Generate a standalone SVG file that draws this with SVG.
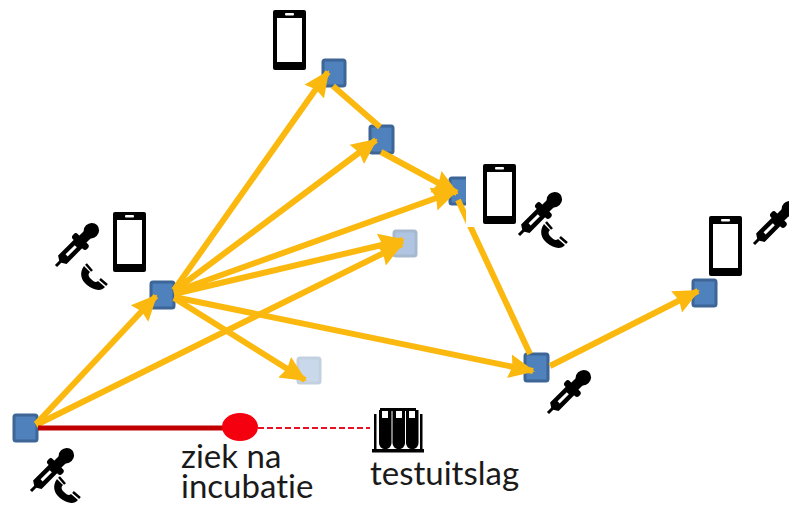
<svg xmlns="http://www.w3.org/2000/svg" width="789" height="508" viewBox="0 0 789 508">
<style>
.n{fill:#4f81bd;stroke:#3d6596;stroke-width:3}
.c line{stroke:#fbb80f;stroke-width:6;fill:none}
.a{marker-end:url(#h)}
text{font-family:"Lato","Open Sans",sans-serif;font-size:33px;fill:#1a1a1a;font-variant-ligatures:none}
</style>
<defs>
<marker id="h" viewBox="0 0 26 26" refX="24" refY="13" markerWidth="26" markerHeight="26" markerUnits="userSpaceOnUse" orient="auto"><path d="M0 1L26 13L0 25L3 13Z" fill="#fbb80f"/></marker>
<g id="phone">
<rect x="0" y="0" width="33" height="60" rx="2" fill="#000"/>
<rect x="4" y="8" width="25" height="44" fill="#fff"/>
<rect x="12" y="3" width="9" height="2.500" rx="1" fill="#fff"/>
</g>
<g id="drop">
<path d="M0 -1.500H6L9 -6H32V6H9L6 1.500H0Z" fill="#000"/>
<rect x="31" y="-10" width="7" height="20" rx="3" fill="#000"/>
<rect x="37" y="-5" width="8" height="10" fill="#000"/>
<ellipse cx="50" cy="0" rx="8" ry="7.500" fill="#000"/>
<rect x="15" y="-1.500" width="13" height="3" fill="#fff"/>
</g>
<g id="hand">
<path d="M3 1C-2 8 0 15 6 20C12 25 20 27 24 22L17 16C15 18 13 17 10 14C7 11 7 9 9 7Z" fill="#000"/>
<path d="M5 -1L11 6M19 14L26 20" stroke="#000" stroke-width="2.500" fill="none"/>
</g>
</defs>
<g id="node-start"><rect class="n" x="14" y="415" width="23" height="26" rx="2"/></g>
<g id="node-a"><rect class="n" x="151" y="282" width="23" height="26" rx="2"/></g>
<g id="node-b"><rect class="n" x="323" y="60" width="22" height="26" rx="2"/></g>
<g id="node-c"><rect class="n" x="370" y="126" width="23" height="27" rx="2"/></g>
<g id="node-d"><rect class="n" x="450" y="178" width="20" height="26" rx="2"/></g>
<g id="node-light1" opacity=".45"><rect class="n" x="394" y="231" width="22" height="25" rx="2"/></g>
<g id="node-light2" opacity=".3"><rect class="n" x="298" y="358" width="22" height="25" rx="2"/></g>
<g id="node-e"><rect class="n" x="525" y="354" width="23" height="27" rx="2"/></g>
<g id="node-f"><rect class="n" x="693" y="280" width="23" height="26" rx="2"/></g>
<g id="connectors" class="c">
<line class="a" x1="36" y1="424" x2="156" y2="296"/>
<line class="a" x1="36" y1="425" x2="402" y2="244"/>
<line class="a" x1="174" y1="290" x2="328" y2="72"/>
<line class="a" x1="174" y1="291" x2="376" y2="140"/>
<line class="a" x1="174" y1="292" x2="456" y2="191"/>
<line class="a" x1="174" y1="294" x2="403" y2="240"/>
<line class="a" x1="174" y1="298" x2="305" y2="380"/>
<line class="a" x1="174" y1="297" x2="533" y2="371"/>
<line x1="333" y1="86" x2="380" y2="127"/>
<line class="a" x1="381" y1="152" x2="457" y2="193"/>
<line x1="458" y1="200" x2="530" y2="354"/>
<line class="a" x1="550" y1="366" x2="698" y2="291"/>
<line x1="38" y1="428" x2="225" y2="428" style="stroke:#c00000;stroke-width:5"/>
<line x1="258" y1="428" x2="370" y2="428" style="stroke:#e81123;stroke-width:2;stroke-dasharray:6 3"/>
</g>
<g id="event"><ellipse cx="240" cy="427" rx="18" ry="14" fill="#f5000f"/><text><tspan x="181" y="468">ziek na</tspan><tspan x="181" y="498">incubatie</tspan></text></g>
<g id="result">
<rect x="380" y="408" width="36" height="3" fill="#000"/>
<rect x="374" y="414" width="2.500" height="36" fill="#000"/>
<rect x="420" y="414" width="2.500" height="36" fill="#000"/>
<rect x="372" y="449" width="52" height="3.500" fill="#000"/>
<g fill="#000"><path d="M379 410h12.500v33a6.250 6.250 0 0 1-12.500 0Z"/><path d="M392.500 410h12.500v33a6.250 6.250 0 0 1-12.500 0Z"/><path d="M406 410h12.500v33a6.250 6.250 0 0 1-12.500 0Z"/></g>
<g fill="#fff"><rect x="382" y="411" width="6" height="7"/><rect x="396" y="411" width="6" height="7"/><rect x="409" y="411" width="6" height="7"/></g>
<text x="370" y="485">testuitslag</text>
</g>
<g id="icons-a"><use href="#drop" transform="translate(56 266) rotate(-45)"/><use href="#hand" transform="translate(81 265)"/><use href="#phone" transform="translate(113 212)"/></g>
<g id="icons-b"><use href="#phone" transform="translate(273 10)"/></g>
<g id="icons-d"><rect x="466" y="160" width="34" height="67" fill="#fff"/><use href="#phone" transform="translate(483 164)"/><use href="#drop" transform="translate(519 235) rotate(-45)"/><use href="#hand" transform="translate(541 223)"/></g>
<g id="icons-e"><use href="#drop" transform="translate(548 413) rotate(-45)"/></g>
<g id="icons-f"><use href="#phone" transform="translate(709 216)"/><use href="#drop" transform="translate(754 244) rotate(-45)"/></g>
<g id="icons-start"><use href="#drop" transform="translate(31 491) rotate(-45)"/><use href="#hand" transform="translate(54 478)"/></g>
</svg>
